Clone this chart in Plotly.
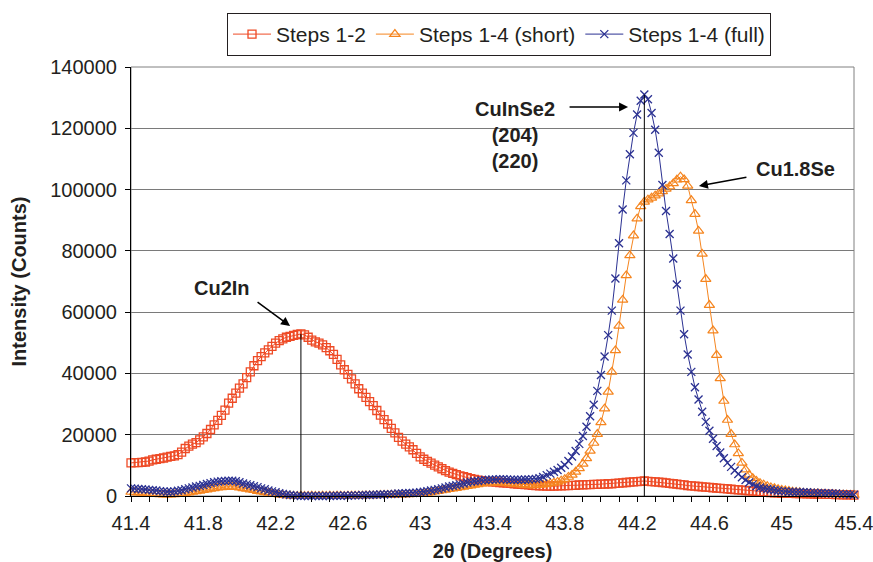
import plotly.graph_objects as go

# Scan grid: 2-theta from 41.40 to 45.40 in 0.02 degree steps
two_theta = [round(41.40 + 0.02 * i, 2) for i in range(201)]

x_tick_values = [41.4, 41.8, 42.2, 42.6, 43.0, 43.4, 43.8, 44.2, 44.6, 45.0, 45.4]
x_tick_labels = ["41.4", "41.8", "42.2", "42.6", "43", "43.4", "43.8", "44.2", "44.6", "45", "45.4"]

steps_1_2 = [
    10800, 10900, 10900, 11000, 11100, 11400, 11800, 12000, 12200, 12400,
    12700, 12900, 13100, 13500, 14300, 15500, 16300, 16900, 17400, 18300,
    19300, 20400, 21700, 23200, 24700, 26300, 28000, 30300, 31900, 33600,
    35200, 36600, 38600, 40500, 42500, 44200, 45500, 46700, 47700, 48800,
    49900, 50700, 51300, 51800, 52100, 52400, 52700, 52900, 52600, 51800,
    50900, 50300, 49900, 49300, 48400, 47400, 46200, 44600, 42800, 41200,
    39700, 38200, 36600, 35000, 33600, 32200, 30800, 29500, 27900, 26400,
    24900, 23500, 22100, 20600, 19100, 17900, 16900, 16000, 15100, 13900,
    12800, 12000, 11300, 10700, 10100, 9500, 8900, 8300, 7800, 7400,
    7000, 6600, 6300, 6000, 5700, 5400, 5200, 5000, 4800, 4700,
    4600, 4500, 4400, 4300, 4200, 4100, 4000, 3900, 3800, 3700,
    3600, 3500, 3400, 3300, 3300, 3200, 3200, 3200, 3300, 3300,
    3400, 3400, 3500, 3500, 3600, 3600, 3700, 3700, 3800, 3800,
    3900, 3900, 4000, 4000, 4100, 4200, 4300, 4400, 4500, 4600,
    4700, 4800, 4900, 4800, 4700, 4600, 4500, 4400, 4300, 4100,
    4000, 3900, 3700, 3600, 3400, 3300, 3200, 3100, 3000, 2900,
    2800, 2700, 2600, 2500, 2400, 2300, 2200, 2100, 2000, 1900,
    1800, 1700, 1600, 1500, 1400, 1300, 1200, 1100, 1000, 1000,
    900, 900, 900, 850, 800, 800, 750, 700, 700, 650,
    600, 600, 550, 500, 500, 450, 450, 400, 400, 350,
    300,
]

steps_1_4_short = [
    1300, 1200, 1100, 1000, 900, 800, 700, 600, 500, 400,
    400, 400, 500, 600, 700, 900, 1100, 1300, 1500, 1700,
    1900, 2100, 2300, 2500, 2700, 2800, 2900, 3000, 3000, 2900,
    2700, 2500, 2300, 2100, 1900, 1600, 1400, 1200, 1000, 800,
    600, 400, 300, 200, 100, 0, 0, 100, 0, 0,
    100, 0, 0, 100, 0, 100, 0, 100, 100, 0,
    100, 100, 100, 100, 100, 200, 200, 200, 200, 300,
    300, 300, 300, 400, 400, 400, 500, 500, 600, 600,
    700, 800, 1000, 1200, 1400, 1600, 1800, 2000, 2200, 2400,
    2600, 2800, 3000, 3200, 3400, 3600, 3800, 4000, 4100, 4200,
    4300, 4300, 4300, 4200, 4100, 4000, 3900, 3800, 3700, 3600,
    3500, 3500, 3500, 3600, 3700, 3900, 4100, 4300, 4600, 5000,
    5500, 6200, 6900, 7900, 9000, 10500, 12300, 14700, 17300, 20200,
    24000, 28500, 34000, 40500, 47500, 55500, 64000, 72000, 78500, 85000,
    90500, 94500, 96000, 96700, 97300, 98000, 98700, 99400, 100200, 101000,
    102000, 103200, 104200, 103300, 101200, 96500, 92000, 86500, 79000, 70800,
    62300, 54000, 46000, 38400, 31000, 24800, 20200, 16800, 13900, 10800,
    8600, 6900, 5800, 4900, 4200, 3700, 3200, 2800, 2500, 2200,
    2000, 1800, 1600, 1400, 1300, 1200, 1000, 900, 900, 800,
    800, 700, 700, 600, 600, 500, 500, 400, 400, 300,
    300,
]

steps_1_4_full = [
    2500, 2400, 2300, 2200, 2100, 2000, 1900, 1800, 1600, 1500,
    1400, 1400, 1500, 1700, 1900, 2200, 2500, 2800, 3100, 3300,
    3600, 3900, 4200, 4500, 4700, 4800, 4900, 5000, 5000, 4800,
    4500, 4100, 3800, 3500, 3200, 2900, 2500, 2200, 1800, 1500,
    1200, 900, 700, 500, 300, 200, 100, 0, 100, 0,
    0, 100, 0, 0, 100, 0, 100, 100, 100, 200,
    100, 200, 200, 200, 300, 300, 300, 400, 400, 500,
    500, 600, 600, 700, 800, 800, 900, 1000, 1000, 1100,
    1200, 1400, 1600, 1800, 2000, 2200, 2500, 2800, 3100, 3300,
    3500, 3800, 4100, 4400, 4600, 4800, 4900, 5100, 5200, 5300,
    5400, 5400, 5500, 5500, 5400, 5300, 5300, 5300, 5300, 5400,
    5400, 5500, 5600, 5800, 6200, 6800, 7300, 7900, 8500, 9200,
    10100, 11400, 12900, 14700, 17000, 19600, 22600, 26000, 29800, 34300,
    39500, 45500, 52500, 60500, 71000, 82500, 93500, 103000, 111500, 118500,
    124500, 129000, 131000, 129500, 125000, 119500, 112000, 101500, 93000, 85500,
    77500, 69000, 60500, 52800, 46200, 40500, 35500, 31500, 27500, 24200,
    21300, 18700, 16300, 14200, 12300, 10800, 9500, 8300, 7200, 6100,
    5200, 4400, 3800, 3200, 2800, 2500, 2300, 2100, 1900, 1700,
    1600, 1500, 1400, 1400, 1300, 1300, 1200, 1200, 1100, 1100,
    1000, 1000, 900, 900, 800, 800, 700, 600, 600, 500,
    400,
]

series_names = ["Steps 1-2", "Steps 1-4 (short)", "Steps 1-4 (full)"]

RED = "#EE4A25"
ORANGE = "#F5851F"
BLUE = "#2B3192"
FONT = "Liberation Sans, Arial, sans-serif"
TXT = "#231F20"

fig = go.Figure()
fig.add_trace(go.Scatter(
    x=two_theta, y=steps_1_2, name=series_names[0], mode="lines+markers",
    line=dict(color=RED, width=1),
    marker=dict(symbol="square-open", size=8, color=RED, line=dict(width=1.3, color=RED)),
    cliponaxis=False,
))
fig.add_trace(go.Scatter(
    x=two_theta, y=steps_1_4_short, name=series_names[1], mode="lines+markers",
    line=dict(color=ORANGE, width=1),
    marker=dict(symbol="triangle-up-open", size=9, color=ORANGE, line=dict(width=1.2, color=ORANGE)),
    cliponaxis=False,
))
fig.add_trace(go.Scatter(
    x=two_theta, y=steps_1_4_full, name=series_names[2], mode="lines+markers",
    line=dict(color=BLUE, width=1),
    marker=dict(symbol="x-thin", size=8, color=BLUE, line=dict(width=1.3, color=BLUE)),
    cliponaxis=False,
))

# peak marker lines derived from data
i_red = max(range(len(steps_1_2)), key=lambda i: steps_1_2[i])
i_blue = max(range(len(steps_1_4_full)), key=lambda i: steps_1_4_full[i])
shapes = [
    dict(type="rect", xref="paper", yref="paper", x0=0, x1=1, y0=0, y1=1,
         line=dict(color="#808080", width=1), layer="below"),
    dict(type="line", xref="x", yref="y", x0=two_theta[i_red], x1=two_theta[i_red],
         y0=0, y1=steps_1_2[i_red], line=dict(color="black", width=1)),
    dict(type="line", xref="x", yref="y", x0=two_theta[i_blue], x1=two_theta[i_blue],
         y0=0, y1=steps_1_4_full[i_blue], line=dict(color="black", width=1)),
]

afont = dict(family=FONT, size=20, color=TXT)
annotations = [
    dict(x=41.903, y=67880, text="<b>Cu2In</b>", showarrow=False, font=afont),
    dict(x=43.524, y=117810, text="<b>CuInSe2</b><br><b>(204)</b><br><b>(220)</b>",
         showarrow=False, font=afont),
    dict(x=45.074, y=106710, text="<b>Cu1.8Se</b>", showarrow=False, font=afont),
    dict(x=42.280, y=55480, ax=-34, ay=-25, text="", showarrow=True,
         arrowhead=2, arrowsize=1.2, arrowwidth=1.5, arrowcolor="black"),
    dict(x=44.150, y=126950, ax=-60, ay=0, text="", showarrow=True,
         arrowhead=2, arrowsize=1.2, arrowwidth=1.5, arrowcolor="black"),
    dict(x=44.542, y=101170, ax=49, ay=-9, text="", showarrow=True,
         arrowhead=2, arrowsize=1.2, arrowwidth=1.5, arrowcolor="black"),
]

fig.update_layout(
    width=873, height=562,
    margin=dict(l=131, r=19, t=67, b=66),
    paper_bgcolor="white", plot_bgcolor="white",
    font=dict(family=FONT, size=20, color=TXT),
    showlegend=True,
    legend=dict(orientation="h", x=0.509, xanchor="center", y=1.126, yanchor="top",
                bordercolor="#231F20", borderwidth=1, bgcolor="white", itemwidth=38,
                font=dict(family=FONT, size=21, color=TXT), traceorder="normal"),
    shapes=shapes,
    annotations=annotations,
)
fig.update_xaxes(
    range=[41.4, 45.4], tickvals=x_tick_values, ticktext=x_tick_labels,
    ticks="outside", ticklen=5, automargin=False, ticklabeloverflow="allow",
    tickcolor="black", showline=True, linecolor="black", linewidth=1,
    showgrid=False, zeroline=False, ticklabelstandoff=4,
    minor=dict(dtick=0.1, tick0=41.4, ticks="outside", ticklen=5, tickcolor="black", showgrid=False),
    title=dict(text="<b>2θ (Degrees)</b>", font=dict(family=FONT, size=20, color=TXT), standoff=11),
    tickfont=dict(family=FONT, size=20, color=TXT),
)
fig.update_yaxes(
    range=[0, 140000], dtick=20000, tickformat="d", ticks="outside", ticklen=5,
    automargin=False,
    tickcolor="black", showline=True, linecolor="black", linewidth=1,
    showgrid=True, gridcolor="#7a7a7a", gridwidth=1, zeroline=False, ticklabelstandoff=4,
    title=dict(text="<b>Intensity (Counts)</b>", font=dict(family=FONT, size=20, color=TXT), standoff=18),
    tickfont=dict(family=FONT, size=20, color=TXT),
)

fig.write_html("out.html")
